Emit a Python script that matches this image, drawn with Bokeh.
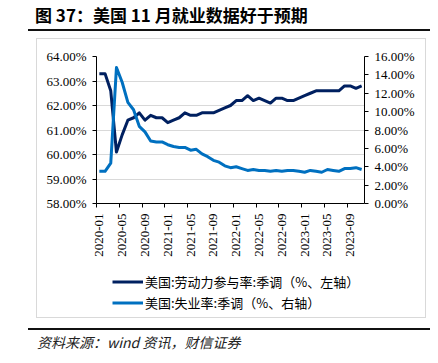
import math
from bokeh.plotting import figure
from bokeh.layouts import column, row
from bokeh.models import (Range1d, LinearAxis, FixedTicker, Legend, LegendItem,
                          ColumnDataSource, Div, Spacer)
from bokeh.embed import file_html
from bokeh.resources import INLINE

# ---------------- data ----------------
months = [f"{y}-{m:02d}" for y in (2020, 2021, 2022, 2023) for m in range(1, 13)][:47]

lfpr = [63.3, 63.3, 62.6, 60.1, 60.8, 61.4, 61.5, 61.7, 61.4, 61.6, 61.5, 61.5,
        61.3, 61.4, 61.5, 61.7, 61.6, 61.6, 61.7, 61.7, 61.7, 61.8, 61.9, 62.0,
        62.2, 62.2, 62.4, 62.2, 62.3, 62.2, 62.1, 62.3, 62.3, 62.2, 62.2, 62.3,
        62.4, 62.5, 62.6, 62.6, 62.6, 62.6, 62.6, 62.8, 62.8, 62.7, 62.8]

unemp = [3.5, 3.5, 4.4, 14.8, 13.2, 11.0, 10.2, 8.4, 7.8, 6.8, 6.7, 6.7,
         6.4, 6.2, 6.1, 6.1, 5.8, 5.9, 5.4, 5.1, 4.7, 4.5, 4.1, 3.9,
         4.0, 3.8, 3.6, 3.7, 3.6, 3.6, 3.5, 3.6, 3.5, 3.6, 3.6, 3.5,
         3.4, 3.6, 3.5, 3.4, 3.7, 3.6, 3.5, 3.8, 3.8, 3.9, 3.7]

left_ticks = [58, 59, 60, 61, 62, 63, 64]
left_labels = ["58.00%", "59.00%", "60.00%", "61.00%", "62.00%", "63.00%", "64.00%"]
right_ticks = [0, 2, 4, 6, 8, 10, 12, 14, 16]
right_labels = ["0.00%", "2.00%", "4.00%", "6.00%", "8.00%", "10.00%", "12.00%", "14.00%", "16.00%"]

series_names = ["美国:劳动力参与率:季调（%、左轴）", "美国:失业率:季调（%、右轴）"]
title_text = "图 37：美国 11 月就业数据好于预期"
source_text = "资料来源：wind 资讯，财信证券"

DARK = "#002060"
LIGHT = "#0070C0"

# ---------------- layout (page pixels) ----------------
PAGE_W = 438
TITLE_H = 39
BOX_X, BOX_W = 37, 388
CHART_H = 223           # 39 .. 262
LEG_H = 55              # 262 .. 317
FL, FT, FW, FH = 96, 56, 268, 147      # frame in page coords
ML = FL - BOX_X
MT = FT - TITLE_H

# ---------------- title block ----------------
title_div = Div(
    text=(f'<div style="position:relative;width:{PAGE_W}px;height:{TITLE_H}px;">'
          f'<div style="position:absolute;left:35px;top:4px;white-space:nowrap;'
          f"font-family:'Noto Sans CJK SC';font-weight:bold;font-size:17px;line-height:22px;color:#000;\">"
          f'{title_text}</div>'
          f'<div style="position:absolute;left:28px;top:29px;width:402px;height:2px;background:#111;"></div>'
          f'</div>'),
    width=PAGE_W, height=TITLE_H, margin=0)

# ---------------- chart ----------------
idx = list(range(len(months)))
src = ColumnDataSource(dict(x=idx, lfpr=lfpr, unemp=unemp))

p = figure(width=BOX_W, height=CHART_H, output_backend="svg", toolbar_location=None,
           x_range=Range1d(-0.5, len(months) - 0.5), y_range=Range1d(58, 64),
           min_border_left=ML, min_border_right=BOX_W - ML - FW,
           min_border_top=MT, min_border_bottom=CHART_H - MT - FH)
p.extra_y_ranges = {"right": Range1d(0, 16)}
p.outline_line_color = None
p.background_fill_color = "white"
p.border_fill_color = "white"

p.xgrid.grid_line_color = None
p.ygrid.grid_line_color = "#d9d9d9"
p.ygrid.grid_line_width = 1
p.ygrid.ticker = FixedTicker(ticks=left_ticks)

xa = p.xaxis[0]
xa.ticker = FixedTicker(ticks=idx[::4], minor_ticks=[i - 0.5 for i in idx[::4]])
xa.major_label_overrides = {i: months[i] for i in idx[::4]}
xa.major_label_orientation = math.pi / 2
xa.major_tick_out = 0
xa.major_tick_in = 0
xa.minor_tick_out = 4
xa.minor_tick_in = 0
xa.minor_tick_line_color = "black"
xa.major_label_standoff = 6
xa.axis_line_color = "black"
xa.major_label_text_font = "Liberation Serif"
xa.major_label_text_font_size = "13px"
xa.major_label_text_color = "black"

ya = p.yaxis[0]
ya.ticker = FixedTicker(ticks=left_ticks)
ya.major_label_overrides = dict(zip(left_ticks, left_labels))
ya.major_tick_out = 4
ya.major_tick_in = 0
ya.minor_tick_line_color = None
ya.major_label_standoff = 6
ya.axis_line_color = "black"
ya.major_tick_line_color = "black"
ya.major_label_text_font = "Liberation Serif"
ya.major_label_text_font_size = "13px"
ya.major_label_text_color = "black"

ra = LinearAxis(y_range_name="right", ticker=FixedTicker(ticks=right_ticks))
ra.major_label_overrides = dict(zip(right_ticks, right_labels))
ra.major_tick_out = 4
ra.major_tick_in = 0
ra.minor_tick_line_color = None
ra.major_label_standoff = 6
ra.axis_line_color = "black"
ra.major_tick_line_color = "black"
ra.major_label_text_font = "Liberation Serif"
ra.major_label_text_font_size = "13px"
ra.major_label_text_color = "black"
p.add_layout(ra, "right")

p.line("x", "lfpr", source=src, line_color=DARK, line_width=3, line_join="round")
p.line("x", "unemp", source=src, y_range_name="right", line_color=LIGHT,
       line_width=3, line_join="round")

# ---------------- legend strip (same series, drawn out of view; legend only) ----------------
lg = figure(width=BOX_W, height=LEG_H, output_backend="svg", toolbar_location=None,
            x_range=Range1d(-100, -99), y_range=Range1d(-100, -99),
            x_axis_type=None, y_axis_type=None, min_border=0)
lg.outline_line_color = None
lg.xgrid.grid_line_color = None
lg.ygrid.grid_line_color = None
lg.background_fill_color = "white"
lg.border_fill_color = "white"
l1 = lg.line("x", "lfpr", source=src, line_color=DARK, line_width=3)
l2 = lg.line("x", "unemp", source=src, line_color=LIGHT, line_width=3)

# the legend strip's frame is aligned with the chart frame (left edge at FL)
legend = Legend(items=[LegendItem(label=series_names[0], renderers=[l1]),
                       LegendItem(label=series_names[1], renderers=[l2])],
                location=(112 - FL, 4), orientation="vertical",
                border_line_color=None, background_fill_alpha=0,
                padding=0, margin=0, spacing=0,
                glyph_width=31, glyph_height=21, label_height=21,
                label_standoff=2,
                label_text_font="Noto Sans CJK SC", label_text_font_size="13px",
                label_text_color="black")
lg.add_layout(legend)

box = column(p, lg, spacing=0, styles={"outline": "1px solid #d9d9d9"})
chart_row = row(Spacer(width=BOX_X, height=CHART_H + LEG_H), box, spacing=0)

# ---------------- source block ----------------
SRC_H = 363 - TITLE_H - CHART_H - LEG_H
source_div = Div(
    text=(f'<div style="position:relative;width:{PAGE_W}px;height:{SRC_H}px;">'
          f'<div style="position:absolute;left:28px;top:11px;width:402px;height:2px;background:#111;"></div>'
          f'<div style="position:absolute;left:37px;top:16px;white-space:nowrap;'
          f"font-family:'Noto Sans CJK SC';font-style:italic;font-size:14px;line-height:18px;color:#222;\">"
          f'{source_text}</div>'
          f'</div>'),
    width=PAGE_W, height=SRC_H, margin=0)

layout = column(title_div, chart_row, source_div, spacing=0)

open("out.html", "w").write(file_html(layout, INLINE))
